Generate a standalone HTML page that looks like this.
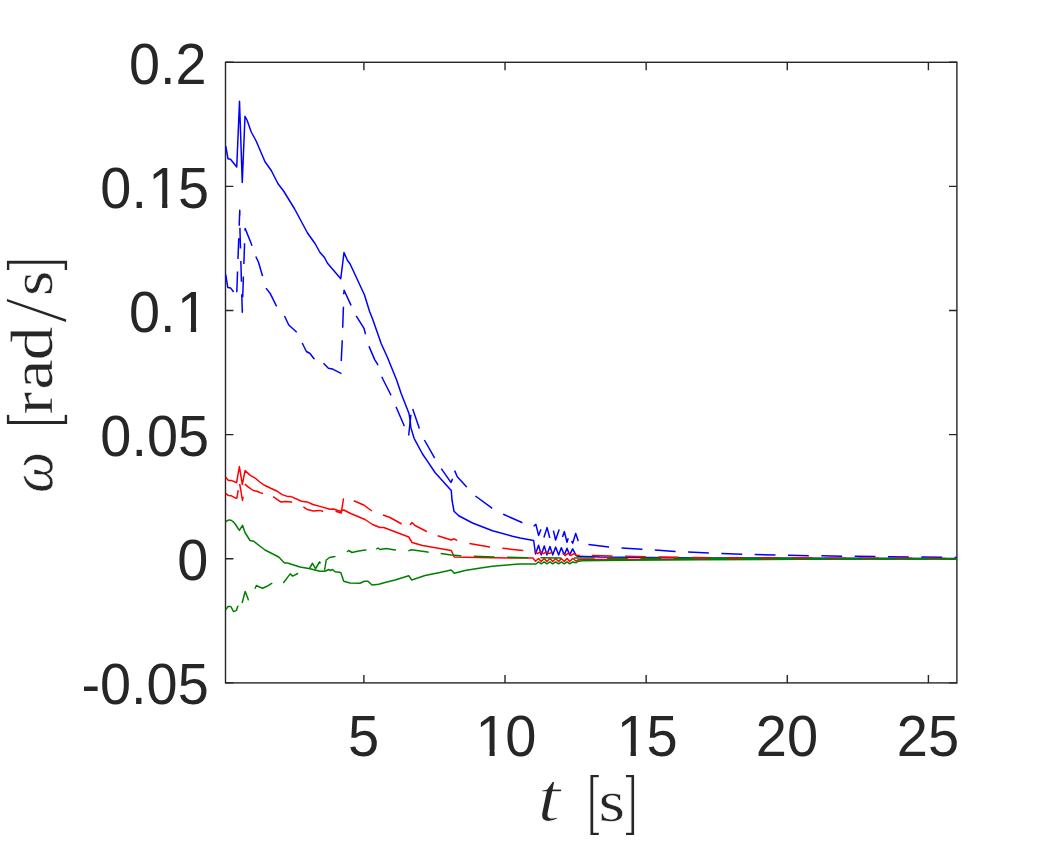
<!DOCTYPE html>
<html><head><meta charset="utf-8"><title>omega plot</title>
<style>html,body{margin:0;padding:0;background:#fff}svg{display:block}</style></head>
<body>
<svg width="1056" height="844" viewBox="0 0 1056 844">
<rect width="1056" height="844" fill="#fff"/>
<g>
<rect x="225.5" y="62.3" width="731.4" height="620.6" fill="none" stroke="#262626" stroke-width="1.4"/>
<path d="M363.90,682.9 v-7.9 M363.90,62.3 v7.9 M505.02,682.9 v-7.9 M505.02,62.3 v7.9 M646.15,682.9 v-7.9 M646.15,62.3 v7.9 M787.27,682.9 v-7.9 M787.27,62.3 v7.9 M928.40,682.9 v-7.9 M928.40,62.3 v7.9 M225.5,62.30 h7.9 M956.9,62.30 h-7.9 M225.5,186.41 h7.9 M956.9,186.41 h-7.9 M225.5,310.52 h7.9 M956.9,310.52 h-7.9 M225.5,434.64 h7.9 M956.9,434.64 h-7.9 M225.5,558.75 h7.9 M956.9,558.75 h-7.9 M225.5,682.86 h7.9 M956.9,682.86 h-7.9" stroke="#262626" stroke-width="1.4" fill="none"/>
</g>
<g>
<path d="M225.75,146.25 L228.00,158.75 L230.50,159.25 L236.75,167.00 L239.50,101.25 L242.25,182.50 L245.00,116.25 L247.00,120.00 L251.25,132.00 L256.25,141.25 L265.00,161.75 L271.25,170.50 L278.00,183.75 L283.75,191.25 L294.50,208.75 L307.50,233.00 L315.00,243.50 L320.00,252.50 L324.50,257.50 L327.50,263.25 L340.75,278.75 L344.00,252.50 L347.50,260.50 L350.00,263.75 L364.50,295.00 L369.50,311.25 L372.50,318.75 L381.25,343.75 L387.50,357.50 L396.60,380.00 L401.25,393.75 L408.90,413.20 L410.10,419.80 L410.80,427.40 L414.10,438.30 L422.50,454.00 L426.40,459.60 L435.00,472.50 L451.25,490.50 L452.00,500.00 L454.00,511.25 L458.75,515.75 L472.50,523.00 L492.50,530.75 L512.50,536.25 L520.00,538.05 L533.65,540.50 L535.50,554.00 L538.57,545.30 L541.23,554.90 L544.26,545.90 L546.91,554.90 L549.95,546.50 L552.75,554.90 L555.63,547.10 L558.67,554.90 L561.32,547.70 L564.35,554.90 L567.01,548.30 L569.66,554.90 L572.69,548.90 L576.10,555.50 L577.60,556.30 L600.00,557.00 L700.00,557.90 L957.00,558.60" stroke="#0000ff" stroke-width="1.5" fill="none" stroke-linejoin="round"/>
<path d="M225.70,274.60 L227.80,287.40 L230.70,288.10 L233.10,291.20 L236.60,296.00 L236.80,292.30 M236.80,292.30 L239.75,210.20 L239.90,227.70 M239.90,227.70 L242.30,312.20 L242.70,297.30 M242.70,297.30 L245.10,228.40 L251.50,244.30 L255.80,256.50 M255.80,256.50 L258.60,262.50 L262.30,275.30 L266.20,288.40 M266.20,288.40 L270.40,293.80 L276.10,305.40 L284.50,316.00 M284.50,316.00 L288.75,325.00 L296.25,331.75 L302.20,343.00 M302.20,343.00 L306.40,351.50 L310.00,353.50 L313.80,358.50 L323.50,363.20 M323.50,363.20 L328.40,368.20 L332.70,369.10 L341.00,373.40 L341.25,361.00 M341.25,361.00 L342.25,340.40 L342.70,327.60 M342.70,327.60 L343.40,307.30 L343.70,294.20 M343.70,294.20 L344.10,290.20 L350.50,304.10 L356.20,315.80 M356.20,315.80 L364.00,328.30 L365.40,333.70 L369.00,346.40 M369.00,346.40 L374.70,359.60 L377.50,364.20 L381.80,376.70 M381.80,376.70 L383.30,380.00 L390.90,395.00 L396.10,407.00 M396.10,407.00 L404.20,425.70 L408.70,435.50 M408.70,435.50 L410.80,415.50 L411.70,406.00 L412.70,408.90 M412.70,408.90 L419.30,428.20 L424.40,440.00 M424.40,440.00 L434.40,457.60 L441.30,468.60 M441.30,468.60 L450.90,482.40 L452.30,479.70 L453.70,469.00 L454.60,470.60 M454.60,470.60 L457.30,476.80 L466.70,486.90 L475.40,496.00 M475.40,496.00 L492.00,508.20 L503.40,514.30 M503.40,514.30 L522.00,522.50 L533.65,526.30 M533.65,526.30 L535.90,524.40 L538.60,535.40 L540.50,530.50 L541.50,528.50 L543.90,537.40 M543.90,537.40 L547.10,527.60 L549.60,537.20 L552.50,530.00 L553.40,530.60 M553.40,530.60 L555.60,540.00 L559.00,529.90 L561.50,537.50 L562.50,536.90 M562.50,536.90 L564.35,531.60 L567.00,542.30 L568.10,538.80 L569.50,535.50 L571.55,541.10 M571.55,541.10 L572.70,543.20 L575.70,533.40 L578.00,540.30 L578.50,541.50 L581.00,543.50 L588.40,544.60 M588.40,544.60 L608.80,547.00 L642.00,549.30 L675.10,551.40 L708.80,553.10 L742.00,554.20 L808.90,555.70 L875.00,556.60 L940.00,557.30 L957.00,557.50" stroke="#0000ff" stroke-width="1.5" fill="none" stroke-linejoin="round" stroke-dasharray="20.83 12.5"/>
<path d="M225.70,477.30 L228.50,480.60 L231.40,480.40 L236.60,482.70 L239.40,466.60 L242.30,484.40 L245.10,470.60 L250.30,475.40 L256.00,478.70 L259.80,482.00 L264.50,485.30 L271.20,488.50 L276.90,491.00 L282.10,494.60 L287.30,496.40 L290.60,496.40 L301.50,501.20 L307.20,501.90 L312.90,504.50 L320.00,506.40 L330.00,509.25 L333.75,509.00 L340.00,511.25 L343.75,510.00 L351.25,513.75 L365.00,519.50 L372.50,524.50 L380.00,527.50 L383.75,527.50 L408.75,537.00 L412.00,542.50 L422.50,545.50 L451.25,550.50 L454.25,557.00 L479.00,557.50 L520.00,558.10 L532.90,558.10 L535.50,561.20 L538.57,558.50 L541.23,561.50 L544.26,558.50 L546.91,561.50 L549.95,558.50 L552.75,561.50 L555.63,558.50 L558.67,561.50 L561.32,558.50 L564.35,561.50 L567.01,558.50 L569.66,561.50 L572.69,558.50 L576.10,561.00 L577.60,560.00 L582.00,559.60 L620.00,559.50 L700.00,559.20 L957.00,558.80" stroke="#ff0000" stroke-width="1.5" fill="none" stroke-linejoin="round"/>
<path d="M225.70,493.40 L228.50,495.60 L231.40,495.80 L236.10,498.40 L236.90,498.10 L239.40,482.80 L239.70,483.90 M239.70,483.90 L242.50,500.50 L244.80,484.20 M244.80,484.20 L248.40,487.20 L253.20,490.50 L257.00,491.30 L260.80,492.90 L266.00,494.50 L273.10,496.70 M273.10,496.70 L281.10,502.10 L285.40,501.40 L291.60,502.10 L297.00,504.50 L303.40,506.90 M303.40,506.90 L307.20,509.50 L313.40,510.90 L320.00,510.40 L322.50,511.25 L335.50,511.25 M335.50,511.25 L341.25,513.00 L343.50,498.75 L344.20,497.00 L353.75,500.75 M353.75,500.75 L363.75,505.00 L371.25,510.50 L383.00,515.00 M383.00,515.00 L390.00,517.50 L401.25,523.75 L410.00,525.00 M410.00,525.00 L412.00,522.50 L415.00,525.50 L426.25,531.25 L437.70,535.70 M437.70,535.70 L451.25,540.00 L454.20,538.80 L456.80,540.30 L469.50,543.40 M469.50,543.40 L489.70,547.10 L502.60,548.30 M502.60,548.30 L522.80,550.50 L534.90,551.10 M534.90,551.10 L537.75,553.60 L540.60,551.62 L543.45,553.60 L546.30,551.86 L549.15,553.60 L552.00,552.10 L554.85,553.60 L557.70,552.34 L560.55,553.60 L562.50,553.00 M562.50,553.00 L565.35,555.40 L568.20,553.20 L571.05,555.40 L573.90,553.60 L576.75,555.40 L578.80,555.50 L591.70,555.60 M591.70,555.60 L611.70,556.00 L645.80,556.70 L679.00,557.30 L712.00,557.70 L800.00,558.10 L957.00,558.40" stroke="#ff0000" stroke-width="1.5" fill="none" stroke-linejoin="round" stroke-dasharray="20.83 12.5"/>
<path d="M225.70,521.80 L227.50,520.40 L229.50,519.90 L231.50,520.50 L233.30,521.80 L235.50,524.50 L237.50,527.50 L239.40,530.40 L242.50,525.30 L245.00,532.50 L250.00,540.50 L253.75,541.25 L265.00,550.00 L278.75,557.00 L284.50,563.00 L287.50,563.00 L300.00,567.00 L310.00,568.75 L320.00,571.25 L325.00,571.25 L328.75,569.50 L330.50,570.50 L332.50,569.50 L335.00,571.75 L340.75,572.50 L343.75,581.25 L350.00,583.00 L360.00,583.25 L364.50,581.25 L368.00,581.25 L372.00,585.00 L378.75,584.25 L385.00,582.50 L395.00,580.00 L408.75,575.75 L411.75,580.00 L425.00,575.50 L440.00,572.50 L451.25,570.00 L454.25,573.25 L465.00,570.50 L479.00,568.25 L492.50,566.25 L512.50,564.50 L520.00,564.10 L535.90,564.00 L538.57,561.90 L541.23,563.80 L544.26,561.90 L546.91,563.80 L549.95,561.90 L552.75,563.80 L555.63,561.90 L558.67,563.80 L561.32,561.90 L564.35,563.80 L567.01,561.90 L569.66,563.80 L572.69,561.90 L576.10,562.80 L577.60,561.50 L582.00,560.70 L624.00,560.30 L700.00,559.80 L800.00,559.30 L957.00,559.00" stroke="#008000" stroke-width="1.5" fill="none" stroke-linejoin="round"/>
<path d="M225.70,609.90 L228.00,606.50 L230.80,606.50 L233.60,611.60 L236.50,610.40 L237.60,606.50 L240.00,606.00 L242.10,603.00 M242.10,603.00 L245.20,591.50 L248.40,599.70 L252.00,594.00 L255.20,588.30 M255.20,588.30 L256.40,585.50 L259.50,587.00 L262.60,588.30 L267.00,586.30 L271.70,583.40 L278.00,581.00 L283.30,583.00 M283.30,583.00 L290.20,573.90 L292.70,576.10 L297.80,573.50 L304.00,571.00 L310.00,567.50 M310.00,567.50 L312.50,563.25 L315.50,568.75 L319.50,562.00 L322.00,566.00 L324.50,570.50 M324.50,570.50 L326.25,560.00 L329.50,557.50 L335.00,556.50 L341.00,554.50 L347.00,552.00 M347.00,552.00 L348.75,550.50 L352.00,552.50 L357.50,551.25 L365.00,550.00 L376.25,549.25 M376.25,549.25 L378.00,548.00 L380.00,549.50 L386.25,548.50 L395.00,550.00 L408.30,550.90 M408.30,550.90 L411.40,549.70 L427.60,552.00 L440.60,553.50 M440.60,553.50 L451.25,555.00 L460.60,555.80 L494.00,557.00 L527.30,557.70 L575.00,558.00 L700.00,558.50 L957.00,558.90" stroke="#008000" stroke-width="1.5" fill="none" stroke-linejoin="round" stroke-dasharray="20.83 12.5"/>
</g>
<g font-family="'Liberation Sans', Arial, sans-serif" font-size="56" fill="#262626">
<text transform="translate(363.50,755.6) scale(1,1.03)" text-anchor="middle">5</text>
<text transform="translate(504.62,755.6) scale(1,1.03)" text-anchor="middle" dx="1.4 -1.4">10</text>
<text transform="translate(645.75,755.6) scale(1,1.03)" text-anchor="middle" dx="1.4 -1.4">15</text>
<text transform="translate(786.88,755.6) scale(1,1.03)" text-anchor="middle">20</text>
<text transform="translate(928.00,755.6) scale(1,1.03)" text-anchor="middle">25</text>
<text transform="translate(206.60,83.90) scale(0.997,1.03)" text-anchor="end">0.2</text>
<text transform="translate(209.00,208.01) scale(0.997,1.03)" text-anchor="end" dx="0 0 1.4 -1.4">0.15</text>
<text transform="translate(208.00,332.12) scale(0.997,1.03)" text-anchor="end" dx="0 0 1.4">0.1</text>
<text transform="translate(209.00,456.24) scale(0.997,1.03)" text-anchor="end">0.05</text>
<text transform="translate(208.40,580.35) scale(0.997,1.03)" text-anchor="end">0</text>
<text transform="translate(208.70,704.46) scale(0.997,1.03)" text-anchor="end">-0.05</text>
</g>
<g>
<rect x="478.45" y="749.85" width="11.15" height="6.75" fill="#fff"/>
<rect x="494.65" y="749.85" width="10.65" height="6.75" fill="#fff"/>
<rect x="619.70" y="749.85" width="10.90" height="6.75" fill="#fff"/>
<rect x="635.90" y="749.85" width="10.65" height="6.75" fill="#fff"/>
<rect x="151.20" y="202.35" width="10.90" height="6.66" fill="#fff"/>
<rect x="167.40" y="202.35" width="10.40" height="6.66" fill="#fff"/>
<rect x="179.95" y="326.35" width="10.90" height="6.77" fill="#fff"/>
<rect x="196.15" y="326.35" width="10.40" height="6.77" fill="#fff"/>
</g>
<g font-family="'Liberation Serif', serif" fill="#262626">
<text transform="translate(537.59,821.29) scale(1.3302,1.1315)" font-size="62" font-style="italic" stroke="#fff" stroke-width="1.2" vector-effect="non-scaling-stroke">t</text>
<text transform="translate(586.18,822.39) scale(0.7914,1.0782)" font-size="62" font-family="'Liberation Sans', sans-serif" stroke="#fff" stroke-width="1.6" vector-effect="non-scaling-stroke">[</text>
<text transform="translate(598.62,821.06) scale(1.0988,0.9710)" font-size="62" stroke="#fff" stroke-width="0.5" vector-effect="non-scaling-stroke">s</text>
<text transform="translate(624.88,822.39) scale(0.7631,1.0779)" font-size="62" font-family="'Liberation Sans', sans-serif" stroke="#fff" stroke-width="1.6" vector-effect="non-scaling-stroke">]</text>
<g transform="rotate(-90)">
<text transform="translate(-493.00,52.45) scale(0.9386,0.9724)" font-size="62" font-style="italic" stroke="#fff" stroke-width="0.5" vector-effect="non-scaling-stroke">ω</text>
<text transform="translate(-428.54,53.85) scale(0.8585,1.0838)" font-size="62" font-family="'Liberation Sans', sans-serif" stroke="#fff" stroke-width="1.6" vector-effect="non-scaling-stroke">[</text>
<text transform="translate(0,51.72) scale(1.0837,0.9655)" x="-382.21 -359.45 -332.42" font-size="62" stroke="#fff" stroke-width="0.3" vector-effect="non-scaling-stroke">rad</text>
<text transform="translate(-323.29,65.88) scale(1.4893,1.4833)" font-size="62" stroke="#fff" stroke-width="1.8" vector-effect="non-scaling-stroke">/</text>
<text transform="translate(-295.95,51.86) scale(1.0509,0.9557)" font-size="62" stroke="#fff" stroke-width="0.5" vector-effect="non-scaling-stroke">s</text>
<text transform="translate(-271.11,53.85) scale(0.8585,1.0838)" font-size="62" font-family="'Liberation Sans', sans-serif" stroke="#fff" stroke-width="1.6" vector-effect="non-scaling-stroke">]</text>
</g></g>
</svg>
</body></html>
